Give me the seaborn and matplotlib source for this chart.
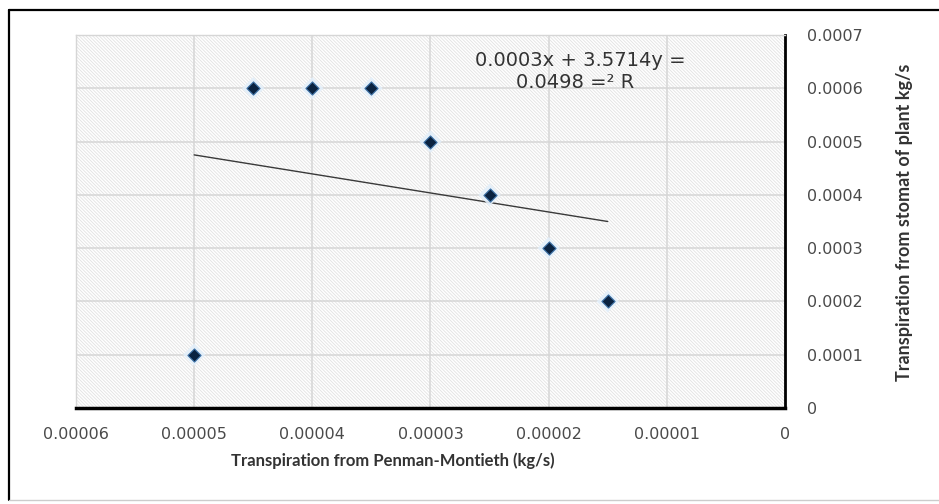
import matplotlib
matplotlib.use("Agg")
import matplotlib.pyplot as plt
import seaborn as sns
import numpy as np
import pandas as pd
from matplotlib.lines import Line2D

# Data
penman_x = [0.000045, 0.00004, 0.000035, 0.00003, 0.000025, 0.00002, 0.000015, 0.00005]
stomat_y = [0.0006, 0.0006, 0.0006, 0.0005, 0.0004, 0.0003, 0.0002, 0.0001]
x_ticks = [0.00006, 0.00005, 0.00004, 0.00003, 0.00002, 0.00001, 0]
x_tick_labels = ["0.00006", "0.00005", "0.00004", "0.00003", "0.00002", "0.00001", "0"]
y_ticks = [0, 0.0001, 0.0002, 0.0003, 0.0004, 0.0005, 0.0006, 0.0007]
y_tick_labels = ["0", "0.0001", "0.0002", "0.0003", "0.0004", "0.0005", "0.0006", "0.0007"]
eq_line1 = "0.0003x + 3.5714y ="
eq_line2 = "0.0498 =\u00b2 R"
x_label = "Transpiration from Penman-Montieth (kg/s)"
y_label = "Transpiration from stomat of plant kg/s"

df = pd.DataFrame({"x": penman_x, "y": stomat_y})

sns.set_theme(style="white")
plt.rcParams["font.family"] = ["DejaVu Sans"]
plt.rcParams["hatch.color"] = "#e2e2e2"
plt.rcParams["hatch.linewidth"] = 0.6

fig = plt.figure(figsize=(9.39, 5.04), dpi=100)
ax = fig.add_axes([76 / 939, 1 - 408 / 504, (785 - 76) / 939, (408 - 35) / 504])

ax.set_facecolor("white")
ax.patch.set_hatch("\\" * 10)
ax.patch.set_edgecolor("#e2e2e2")

ax.set_axisbelow(True)
ax.grid(True, color="#d6d6d6", linewidth=1.1)

# trend line (linear regression of the data)
sns.regplot(data=df, x="x", y="y", scatter=False, ci=None, truncate=True,
            line_kws={"color": "#3a3a3a", "linewidth": 1.0}, ax=ax)

# halo + markers
sns.scatterplot(data=df, x="x", y="y", marker="D", s=130, color="#e3effa",
                edgecolor="none", alpha=0.9, ax=ax, zorder=3)
sns.scatterplot(data=df, x="x", y="y", marker="D", s=45, color="#0a2341",
                edgecolor="#3f73a8", linewidth=0.8, ax=ax, zorder=4)

ax.set_xlim(0.00006, 0)
ax.set_ylim(0, 0.0007)
ax.set_xticks(x_ticks)
ax.set_xticklabels(x_tick_labels)
ax.set_yticks(y_ticks)
ax.set_yticklabels(y_tick_labels)

ax.yaxis.tick_right()
ax.yaxis.set_label_position("right")
ax.tick_params(axis="x", length=0, pad=14, labelsize=11.5, colors="#4a4a4a")
ax.tick_params(axis="y", length=0, pad=16, labelsize=11.5, colors="#4a4a4a")

ax.set_xlabel(x_label, fontsize=12, fontweight="bold", color="#333333",
              family=["Lato", "DejaVu Sans"])
ax.xaxis.set_label_coords((393 - 76) / 709, -(452 - 408) / 373)
ax.set_ylabel(y_label, fontsize=13, fontweight="bold", color="#333333",
              family=["Lato", "DejaVu Sans"], rotation=90)
ax.yaxis.set_label_coords((896 - 76) / 709, (408 - 222) / 373)

for side in ["left", "top"]:
    ax.spines[side].set_color("#d6d6d6")
    ax.spines[side].set_linewidth(1.0)
ax.spines["right"].set_color("black")
ax.spines["right"].set_linewidth(2.0)
ax.spines["bottom"].set_color("black")
ax.spines["bottom"].set_linewidth(2.5)

# equation text
fig.text(580 / 939, 1 - 60 / 504, eq_line1, ha="center", va="center",
         fontsize=14, color="#333333")
fig.text(575 / 939, 1 - 83 / 504, eq_line2, ha="center", va="center",
         fontsize=14, color="#333333")

# outer frame
fig.add_artist(Line2D([9 / 939, 1.0], [1 - 10 / 504, 1 - 10 / 504],
                      transform=fig.transFigure, color="black", linewidth=1.6))
fig.add_artist(Line2D([9 / 939, 9 / 939], [1 - 10 / 504, 1 - 500 / 504],
                      transform=fig.transFigure, color="black", linewidth=1.6))
fig.add_artist(Line2D([9 / 939, 1.0], [1 - 500 / 504, 1 - 500 / 504],
                      transform=fig.transFigure, color="#cccccc", linewidth=1.0))

fig.savefig("out.png", dpi=100)
